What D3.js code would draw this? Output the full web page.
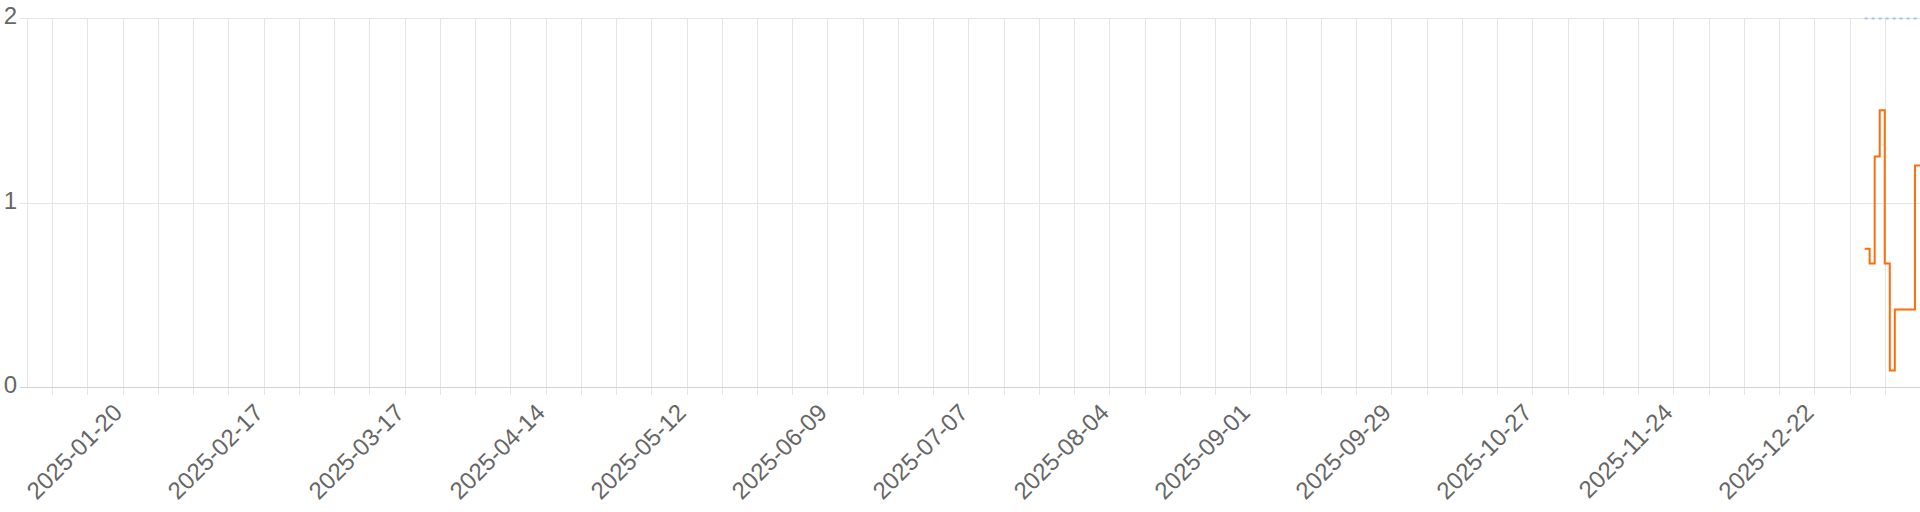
<!DOCTYPE html>
<html lang="en">
<head>
    <meta charset="utf-8">
    <script src="https://cdn.jsdelivr.net/npm/d3@7/dist/d3.min.js"></script>
    <style>
        body { margin: 0; background: #fff; }
        #chart text { font-family: "Liberation Sans", Arial, Helvetica, sans-serif; fill: #666; }
    </style>
</head>
<body>
    <div id="chart"></div>
    <script>
        // daily values
        const dates = ["2026-01-01", "2026-01-02", "2026-01-03", "2026-01-04", "2026-01-05", "2026-01-06",
            "2026-01-07", "2026-01-08", "2026-01-09", "2026-01-10", "2026-01-11", "2026-01-12"];
        const values = [0.75, 0.67, 1.25, 1.5, 0.67, 0.09, 0.42, 0.42, 0.42, 0.42, 1.2, 1.2];
        const targetValues = [2, 2, 2, 2, 2, 2, 2, 2, 2, 2, 2, 2];
        const yTicks = [0, 1, 2];
        const domainDates = ["2025-01-01", "2026-01-12"];
        const firstWeek = "2025-01-06";
        const firstLabel = "2025-01-20";

        const width = 1920, height = 512;
        const margin = { top: 18, right: 0, bottom: 125, left: 27 };
        const parse = d3.utcParse("%Y-%m-%d");
        const fmt = d3.utcFormat("%Y-%m-%d");

        const x = d3.scaleUtc()
            .domain(domainDates.map(parse))
            .range([margin.left, width - margin.right]);
        const y = d3.scaleLinear()
            .domain([0, 2])
            .range([height - margin.bottom, margin.top]);

        const svg = d3.select("#chart").append("svg")
            .attr("width", width)
            .attr("height", height);

        const weeks = d3.utcMonday.range(parse(firstWeek), x.domain()[1]);
        const labelStart = parse(firstLabel);
        const labelled = weeks.filter(d => d >= labelStart && Math.round((d - labelStart) / 864e5) % 28 === 0);

        // vertical grid + tick marks
        svg.append("g")
            .selectAll("line")
            .data(weeks)
            .join("line")
            .attr("x1", d => Math.round(x(d)) + 0.5)
            .attr("x2", d => Math.round(x(d)) + 0.5)
            .attr("y1", margin.top)
            .attr("y2", y(0) + 8)
            .attr("stroke", "#e5e5e5");

        // horizontal grid
        svg.append("g")
            .selectAll("line")
            .data(yTicks)
            .join("line")
            .attr("x1", margin.left - 7)
            .attr("x2", width)
            .attr("y1", d => Math.round(y(d)) + 0.5)
            .attr("y2", d => Math.round(y(d)) + 0.5)
            .attr("stroke", d => d === 0 ? "#d0d0d0" : "#e5e5e5");

        // left border
        svg.append("line")
            .attr("x1", margin.left + 0.5)
            .attr("x2", margin.left + 0.5)
            .attr("y1", margin.top)
            .attr("y2", y(0))
            .attr("stroke", "#e5e5e5");

        // y labels
        svg.append("g")
            .selectAll("text")
            .data(yTicks)
            .join("text")
            .attr("x", 17)
            .attr("y", d => y(d))
            .attr("dy", "0.27em")
            .attr("text-anchor", "end")
            .style("font-size", "24px")
            .text(d => d);

        // x labels
        svg.append("g")
            .selectAll("text")
            .data(labelled)
            .join("text")
            .attr("transform", d => `translate(${x(d) + 1},${y(0) + 27}) rotate(-45)`)
            .attr("text-anchor", "end")
            .style("font-size", "24px")
            .text(d => fmt(d));

        const pts = dates.map((d, i) => ({ date: parse(d), v: values[i], t: targetValues[i] }));

        svg.append("path")
            .datum(pts)
            .attr("fill", "none")
            .attr("stroke", "#9ec5f5")
            .attr("stroke-width", 2)
            .attr("stroke-dasharray", "3,4")
            .attr("d", d3.line().x(d => x(d.date)).y(d => y(d.t) + 0.5).curve(d3.curveStepAfter));

        svg.append("path")
            .datum(pts)
            .attr("fill", "none")
            .attr("stroke", "#ff6d0a")
            .attr("stroke-width", 2)
            .attr("d", d3.line().x(d => x(d.date)).y(d => y(d.v)).curve(d3.curveStepAfter));
    </script>
</body>
</html>
